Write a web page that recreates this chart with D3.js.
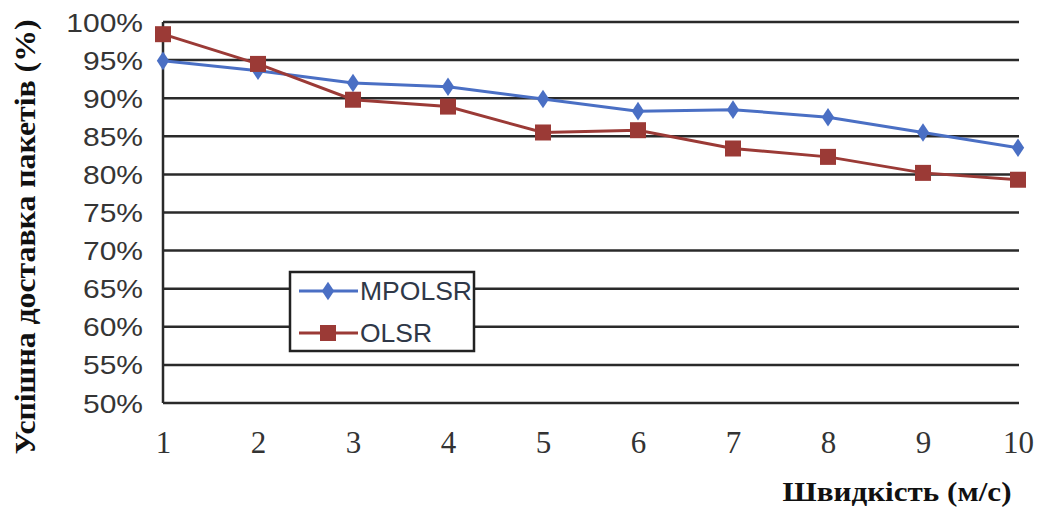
<!DOCTYPE html>
<html>
<head>
<meta charset="utf-8">
<script src="https://cdn.jsdelivr.net/npm/d3@7"></script>
<style>
  body { margin: 0; background: #fff; }
  svg { display: block; }
</style>
</head>
<body>
<svg width="1045" height="510"></svg>
<script>
// speed, m/s
const speeds = [1, 2, 3, 4, 5, 6, 7, 8, 9, 10];
// packet delivery ratio, %
const mpolsr = [94.9, 93.6, 92.0, 91.5, 89.9, 88.3, 88.5, 87.5, 85.5, 83.5];
const olsr   = [98.4, 94.5, 89.8, 88.9, 85.5, 85.8, 83.4, 82.3, 80.2, 79.3];
const yTicks = [50, 55, 60, 65, 70, 75, 80, 85, 90, 95, 100];

const svg = d3.select("svg");
const margin = {left: 163, right: 1019, top: 22, bottom: 403};

const x = d3.scaleLinear().domain([1, 10]).range([margin.left, 1018]);
const y = d3.scaleLinear().domain([50, 100]).range([margin.bottom, margin.top]);

// grid lines
svg.append("g")
   .selectAll("line")
   .data(yTicks)
   .enter()
   .append("line")
   .attr("x1", margin.left)
   .attr("x2", margin.right)
   .attr("y1", d => y(d))
   .attr("y2", d => y(d))
   .attr("stroke", "#2a2a2a")
   .attr("stroke-width", 2.5);

// left axis line
svg.append("line")
   .attr("x1", margin.left).attr("x2", margin.left)
   .attr("y1", margin.top).attr("y2", margin.bottom)
   .attr("stroke", "#2a2a2a")
   .attr("stroke-width", 2.5);

// y tick labels (the original glyphs are a bit wide, so stretch them)
const yAxis = d3.axisLeft(y).tickValues(yTicks).tickSize(0)
                .tickFormat(d => d + "%");
const gy = svg.append("g").attr("transform", `translate(${margin.left},0)`).call(yAxis);
gy.select(".domain").remove();
gy.selectAll("text")
  .attr("x", -20 / 1.2)
  .attr("transform", "scale(1.2,1)")
  .attr("font-family", "Liberation Sans, Arial, sans-serif")
  .attr("font-size", 25)
  .attr("fill", "#353535")
  .attr("dy", "0.36em");

// x tick labels
const xAxis = d3.axisBottom(x).tickValues(speeds).tickSize(0)
                .tickFormat(d3.format("d"));
const gx = svg.append("g").attr("transform", `translate(0,${margin.bottom})`).call(xAxis);
gx.select(".domain").remove();
gx.selectAll("text")
  .attr("y", 50)
  .attr("dy", "0")
  .attr("font-family", "Liberation Serif, Times New Roman, serif")
  .attr("font-size", 31)
  .attr("fill", "#333");

// axis titles
svg.append("text")
   .attr("x", 897).attr("y", 501)
   .attr("text-anchor", "middle")
   .attr("font-family", "Liberation Serif, Times New Roman, serif")
   .attr("font-weight", "bold")
   .attr("font-size", 28)
   .attr("textLength", 229)
   .attr("lengthAdjust", "spacingAndGlyphs")
   .attr("fill", "#111")
   .text("Швидкість (м/с)");

svg.append("text")
   .attr("transform", "translate(35,237) rotate(-90)")
   .attr("text-anchor", "middle")
   .attr("font-family", "Liberation Serif, Times New Roman, serif")
   .attr("font-weight", "bold")
   .attr("font-size", 30)
   .attr("textLength", 435)
   .attr("lengthAdjust", "spacingAndGlyphs")
   .attr("fill", "#111")
   .text("Успішна доставка пакетів (%)");

// series
const line = d3.line().x((d, i) => x(speeds[i])).y(d => y(d));
const blue = "#4a6fc4", red = "#9b3a36";

svg.append("path").datum(mpolsr)
   .attr("d", line).attr("fill", "none")
   .attr("stroke", blue).attr("stroke-width", 3);
svg.append("path").datum(olsr)
   .attr("d", line).attr("fill", "none")
   .attr("stroke", red).attr("stroke-width", 3);

const diamond = d3.symbol().type(d3.symbolDiamond).size(100);

svg.append("g").selectAll("path")
   .data(mpolsr).enter().append("path")
   .attr("d", diamond)
   .attr("transform", (d, i) => `translate(${x(speeds[i])},${y(d)}) scale(1.15,1)`)
   .attr("fill", blue);

svg.append("g").selectAll("rect")
   .data(olsr).enter().append("rect")
   .attr("x", (d, i) => x(speeds[i]) - 8)
   .attr("y", d => y(d) - 8)
   .attr("width", 16).attr("height", 16)
   .attr("fill", red);

// legend
const legend = svg.append("g").attr("transform", "translate(290,272)");
legend.append("rect")
      .attr("width", 184).attr("height", 79)
      .attr("fill", "#fff")
      .attr("stroke", "#222").attr("stroke-width", 2.5);

const entries = [
    {name: "MPOLSR", color: blue, y: 19, marker: "diamond", len: 112},
    {name: "OLSR", color: red, y: 61, marker: "square", len: 72}
];

entries.forEach(function(e){
    legend.append("line")
          .attr("x1", 9).attr("x2", 68)
          .attr("y1", e.y).attr("y2", e.y)
          .attr("stroke", e.color).attr("stroke-width", 3);
    if (e.marker == "diamond"){
        legend.append("path")
              .attr("d", diamond)
              .attr("transform", `translate(38,${e.y}) scale(1.15,1)`)
              .attr("fill", e.color);
    } else {
        legend.append("rect")
              .attr("x", 30).attr("y", e.y - 8)
              .attr("width", 16).attr("height", 16)
              .attr("fill", e.color);
    }
    legend.append("text")
          .attr("x", 70).attr("y", e.y)
          .attr("dy", "0.36em")
          .attr("font-family", "Liberation Sans, Arial, sans-serif")
          .attr("font-size", 25)
          .attr("textLength", e.len)
          .attr("lengthAdjust", "spacingAndGlyphs")
          .attr("fill", "#2f3848")
          .text(e.name);
});
</script>
</body>
</html>
